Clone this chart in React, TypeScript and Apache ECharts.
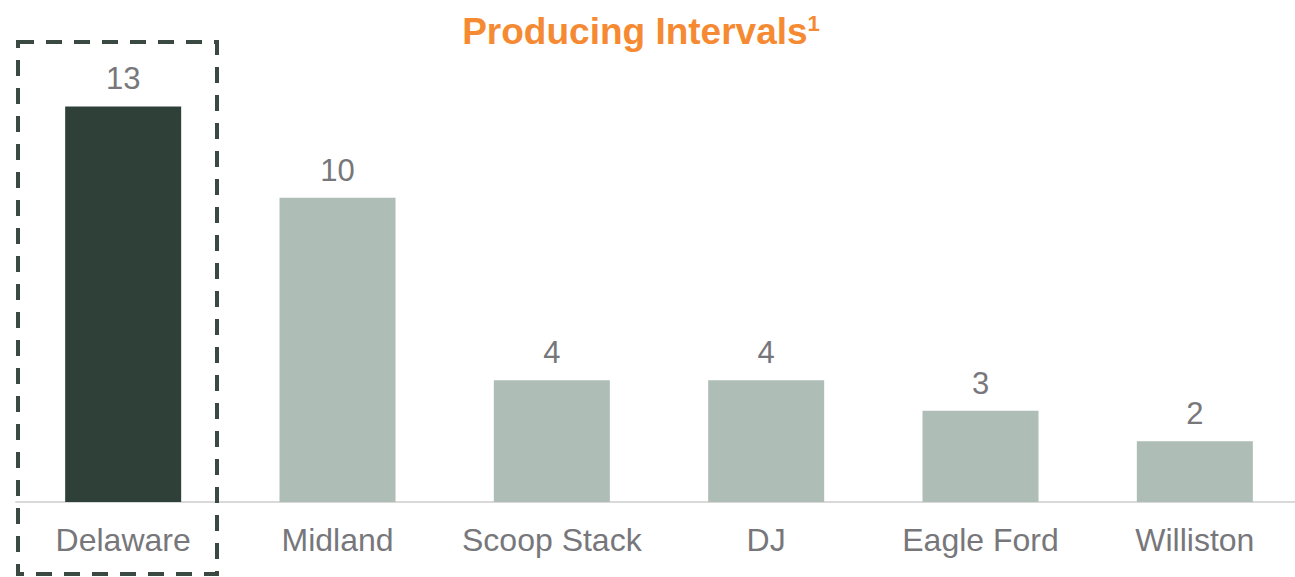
import React, { useEffect, useRef } from "react";
import * as echarts from "echarts";

const categories = ["Delaware", "Midland", "Scoop Stack", "DJ", "Eagle Ford", "Williston"];
const values = [13, 10, 4, 4, 3, 2];
const highlightIndex = 0;

const FONT = "Liberation Sans, Arial, sans-serif";

export default function App() {
  const ref = useRef<HTMLDivElement>(null);
  useEffect(() => {
    document.body.style.margin = "0";
    const chart = echarts.init(ref.current!, null, { renderer: "svg" });
    chart.setOption({
      animation: false,
      backgroundColor: "#ffffff",
      title: {
        text: "{t|Producing Intervals}{s|1}",
        left: 636,
        textAlign: "center",
        top: 7,
        textStyle: {
          rich: {
            t: { fontFamily: FONT, fontWeight: "bold", fontSize: 37, color: "#F58A33" },
            s: { fontFamily: FONT, fontWeight: "bold", fontSize: 22, color: "#F58A33", verticalAlign: "top", padding: [0, 0, 16, 0] },
          },
        },
      },
      grid: { left: 16, right: 0, top: 0, bottom: 75 },
      xAxis: {
        type: "category",
        data: categories,
        axisLine: { show: true, lineStyle: { color: "#d9d9d9", width: 2 } },
        axisTick: { show: false },
        axisLabel: {
          interval: 0,
          color: "#77777b",
          fontSize: 32,
          fontFamily: FONT,
          margin: 22,
        },
      },
      yAxis: {
        type: "value",
        min: 0,
        max: 16.5,
        show: false,
        splitLine: { show: false },
      },
      series: [
        {
          type: "bar",
          barWidth: 116,
          data: values.map((v, i) => ({
            value: v,
            itemStyle: { color: i === highlightIndex ? "#2E4038" : "#AEBDB5" },
          })),
          label: {
            show: true,
            position: "top",
            distance: 12,
            color: "#77777b",
            fontSize: 31,
            fontFamily: FONT,
          },
        },
      ],
      graphic: [
        {
          type: "rect",
          shape: { x: 18, y: 42, width: 199, height: 532 },
          style: {
            fill: "none",
            stroke: "#3A4A43",
            lineWidth: 4,
            lineDash: [16, 12],
          },
          z: 10,
        },
      ],
    });
    return () => chart.dispose();
  }, []);
  return (
    <div style={{ width: 1295, height: 577, overflow: "hidden", position: "relative" }}>
      <div ref={ref} style={{ width: 1302, height: 577 }} />
    </div>
  );
}
